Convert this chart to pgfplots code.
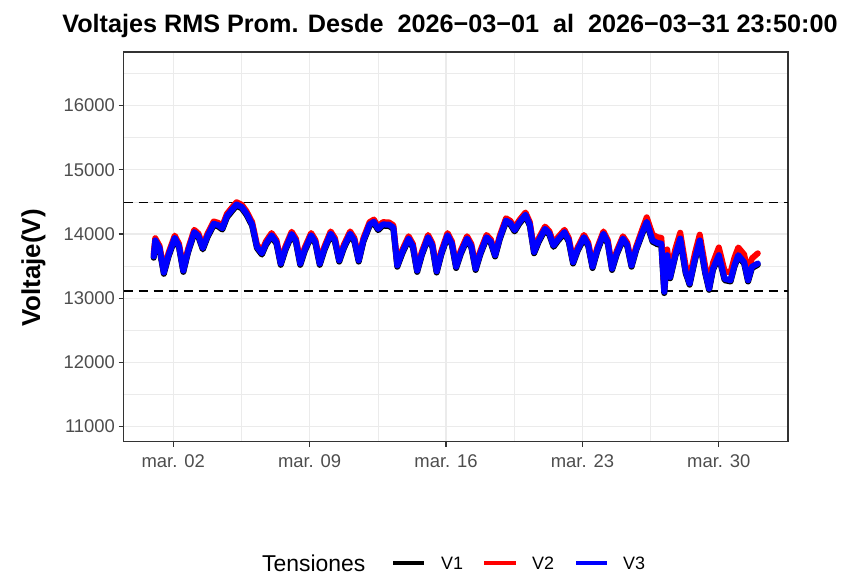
\documentclass[border=0pt]{standalone}
\usepackage{pgfplots}
\pgfplotsset{compat=1.18}
\usepackage{pgfplotstable}
\usepackage{fontspec}
\setmainfont{Liberation Sans}
\definecolor{grey92}{HTML}{EBEBEB}
\definecolor{grey20}{HTML}{333333}
\definecolor{grey30}{HTML}{4D4D4D}
\pgfplotstableread{
t v1 v2 v3
1.00 13630 13685 13650
1.08 13880 13935 13900
1.30 13760 13815 13780
1.52 13380 13435 13400
1.76 13650 13705 13670
2.08 13920 13975 13940
2.30 13790 13845 13810
2.52 13410 13465 13430
2.76 13710 13765 13730
3.08 14010 14065 14030
3.30 13950 14005 13970
3.52 13760 13815 13780
3.76 13950 14005 13970
4.08 14140 14195 14160
4.30 14120 14175 14140
4.52 14070 14125 14090
4.76 14260 14315 14280
5.08 14380 14435 14400
5.25 14440 14495 14460
5.52 14400 14455 14420
5.76 14300 14355 14320
6.05 14130 14185 14150
6.30 13780 13835 13800
6.55 13680 13735 13700
6.76 13830 13885 13850
7.05 13960 14015 13980
7.30 13850 13905 13870
7.52 13520 13575 13540
7.76 13750 13805 13770
8.08 13980 14035 14000
8.30 13870 13925 13890
8.52 13520 13575 13540
8.76 13740 13795 13760
9.08 13960 14015 13980
9.30 13850 13905 13870
9.52 13520 13575 13540
9.76 13750 13805 13770
10.08 13985 14040 14005
10.30 13880 13935 13900
10.52 13570 13625 13590
10.76 13780 13835 13800
11.08 13985 14040 14005
11.30 13880 13935 13900
11.52 13570 13625 13590
11.76 13880 13935 13900
12.08 14130 14185 14150
12.30 14170 14225 14190
12.52 14060 14115 14080
12.76 14130 14185 14150
13.08 14125 14180 14145
13.30 14080 14135 14100
13.50 13490 13545 13510
13.76 13700 13755 13720
14.08 13910 13965 13930
14.30 13790 13845 13810
14.52 13410 13465 13430
14.76 13670 13725 13690
15.08 13930 13985 13950
15.30 13800 13855 13820
15.52 13400 13455 13420
15.76 13680 13735 13700
16.08 13960 14015 13980
16.30 13830 13885 13850
16.52 13470 13525 13490
16.76 13690 13745 13710
17.08 13910 13965 13930
17.30 13790 13845 13810
17.52 13440 13495 13460
17.76 13680 13735 13700
18.08 13930 13985 13950
18.30 13860 13915 13880
18.52 13650 13705 13670
18.76 13920 13975 13940
19.08 14190 14245 14210
19.30 14150 14205 14170
19.52 14040 14095 14060
19.76 14160 14215 14180
20.08 14280 14335 14300
20.30 14130 14185 14150
20.52 13700 13755 13720
20.76 13880 13935 13900
21.08 14060 14115 14080
21.30 13990 14045 14010
21.52 13800 13855 13820
21.76 13900 13955 13920
22.08 14010 14065 14030
22.30 13880 13935 13900
22.52 13540 13595 13560
22.76 13740 13795 13760
23.08 13930 13985 13950
23.30 13810 13865 13830
23.52 13470 13525 13490
23.76 13730 13785 13750
24.08 13985 14040 14005
24.30 13850 13905 13870
24.52 13440 13495 13460
24.76 13680 13735 13700
25.08 13910 13965 13930
25.30 13810 13865 13830
25.52 13490 13545 13510
25.76 13750 13805 13770
26.08 14010 14080 14030
26.30 14170 14260 14190
26.60 13880 13990 13900
26.85 13840 13950 13860
27.05 13830 13940 13850
27.20 13080 13190 13100
27.35 13650 13760 13670
27.50 13310 13420 13330
27.78 13670 13780 13690
28.02 13910 14020 13930
28.30 13390 13500 13410
28.50 13210 13320 13230
28.78 13600 13710 13620
29.02 13880 13990 13900
29.30 13390 13500 13410
29.50 13130 13240 13150
29.70 13440 13550 13460
30.00 13650 13790 13670
30.30 13280 13420 13300
30.60 13260 13400 13280
30.80 13490 13630 13510
31.00 13650 13790 13670
31.30 13540 13680 13560
31.50 13260 13400 13280
31.70 13470 13620 13490
32.00 13520 13700 13540
}\datatable

\begin{document}
\begin{tikzpicture}
\useasboundingbox (0,0) rectangle (851bp,576bp);
\begin{axis}[
  at={(123.5bp,134.3bp)}, anchor=south west,
  scale only axis, width=664.5bp, height=389.7bp,
  xmin=-0.55, xmax=33.55, ymin=10764, ymax=16836,
  scaled x ticks=false, scaled y ticks=false,
  axis line style={grey20, line width=1.1bp},
  xtick={2,9,16,23,30},
  xticklabels={mar. 02,mar. 09,mar. 16,mar. 23,mar. 30},
  ytick={11000,12000,13000,14000,15000,16000},
  yticklabels={11000,12000,13000,14000,15000,16000},
  minor xtick={5.5,12.5,19.5,26.5},
  minor ytick={11500,12500,13500,14500,15500,16500},
  grid=both,
  major grid style={grey92, line width=1.1bp},
  minor grid style={grey92, line width=0.55bp},
  tick pos=left, tick align=outside,
  major tick length=5bp, minor tick length=0pt,
  tick style={grey20, line width=1.1bp},
  ticklabel style={font=\fontsize{18.5}{18.5}\selectfont, text=grey30},
  xticklabel style={yshift=-4bp},
]
\addplot[black, dash pattern=on 9bp off 6bp, line width=1.8bp, forget plot] coordinates {(-0.55,14490) (33.55,14490)};
\addplot[black, dash pattern=on 9bp off 6bp, line width=1.8bp, forget plot] coordinates {(-0.55,13110) (33.55,13110)};
\addplot[black, line width=6bp, line join=round, line cap=round] table[x=t, y=v1] {\datatable};
\addplot[red, line width=6bp, line join=round, line cap=round] table[x=t, y=v2] {\datatable};
\addplot[blue, line width=6bp, line join=round, line cap=round] table[x=t, y=v3] {\datatable};
\end{axis}
\node[font=\bfseries\fontsize{26}{26}\selectfont, rotate=90, anchor=base] at (40bp,308bp) {Voltaje(V)};
\node[font=\bfseries\fontsize{25.3}{25.3}\selectfont, anchor=base] at (450bp,543bp) {Voltajes RMS Prom. Desde\ \ 2026−03−01\ \ al\ \ 2026−03−31 23:50:00};
\node[anchor=base west, font=\fontsize{23}{23}\selectfont, inner sep=0pt] at (262bp,5bp) {Tensiones};
\draw[black, line width=4.5bp] (393bp,13bp) -- (424bp,13bp);
\node[anchor=base west, font=\fontsize{18}{18}\selectfont, inner sep=0pt] at (441bp,6.5bp) {V1};
\draw[red, line width=4.5bp] (484bp,13bp) -- (516bp,13bp);
\node[anchor=base west, font=\fontsize{18}{18}\selectfont, inner sep=0pt] at (532bp,6.5bp) {V2};
\draw[blue, line width=4.5bp] (576bp,13bp) -- (607bp,13bp);
\node[anchor=base west, font=\fontsize{18}{18}\selectfont, inner sep=0pt] at (623bp,6.5bp) {V3};
\end{tikzpicture}
\end{document}
